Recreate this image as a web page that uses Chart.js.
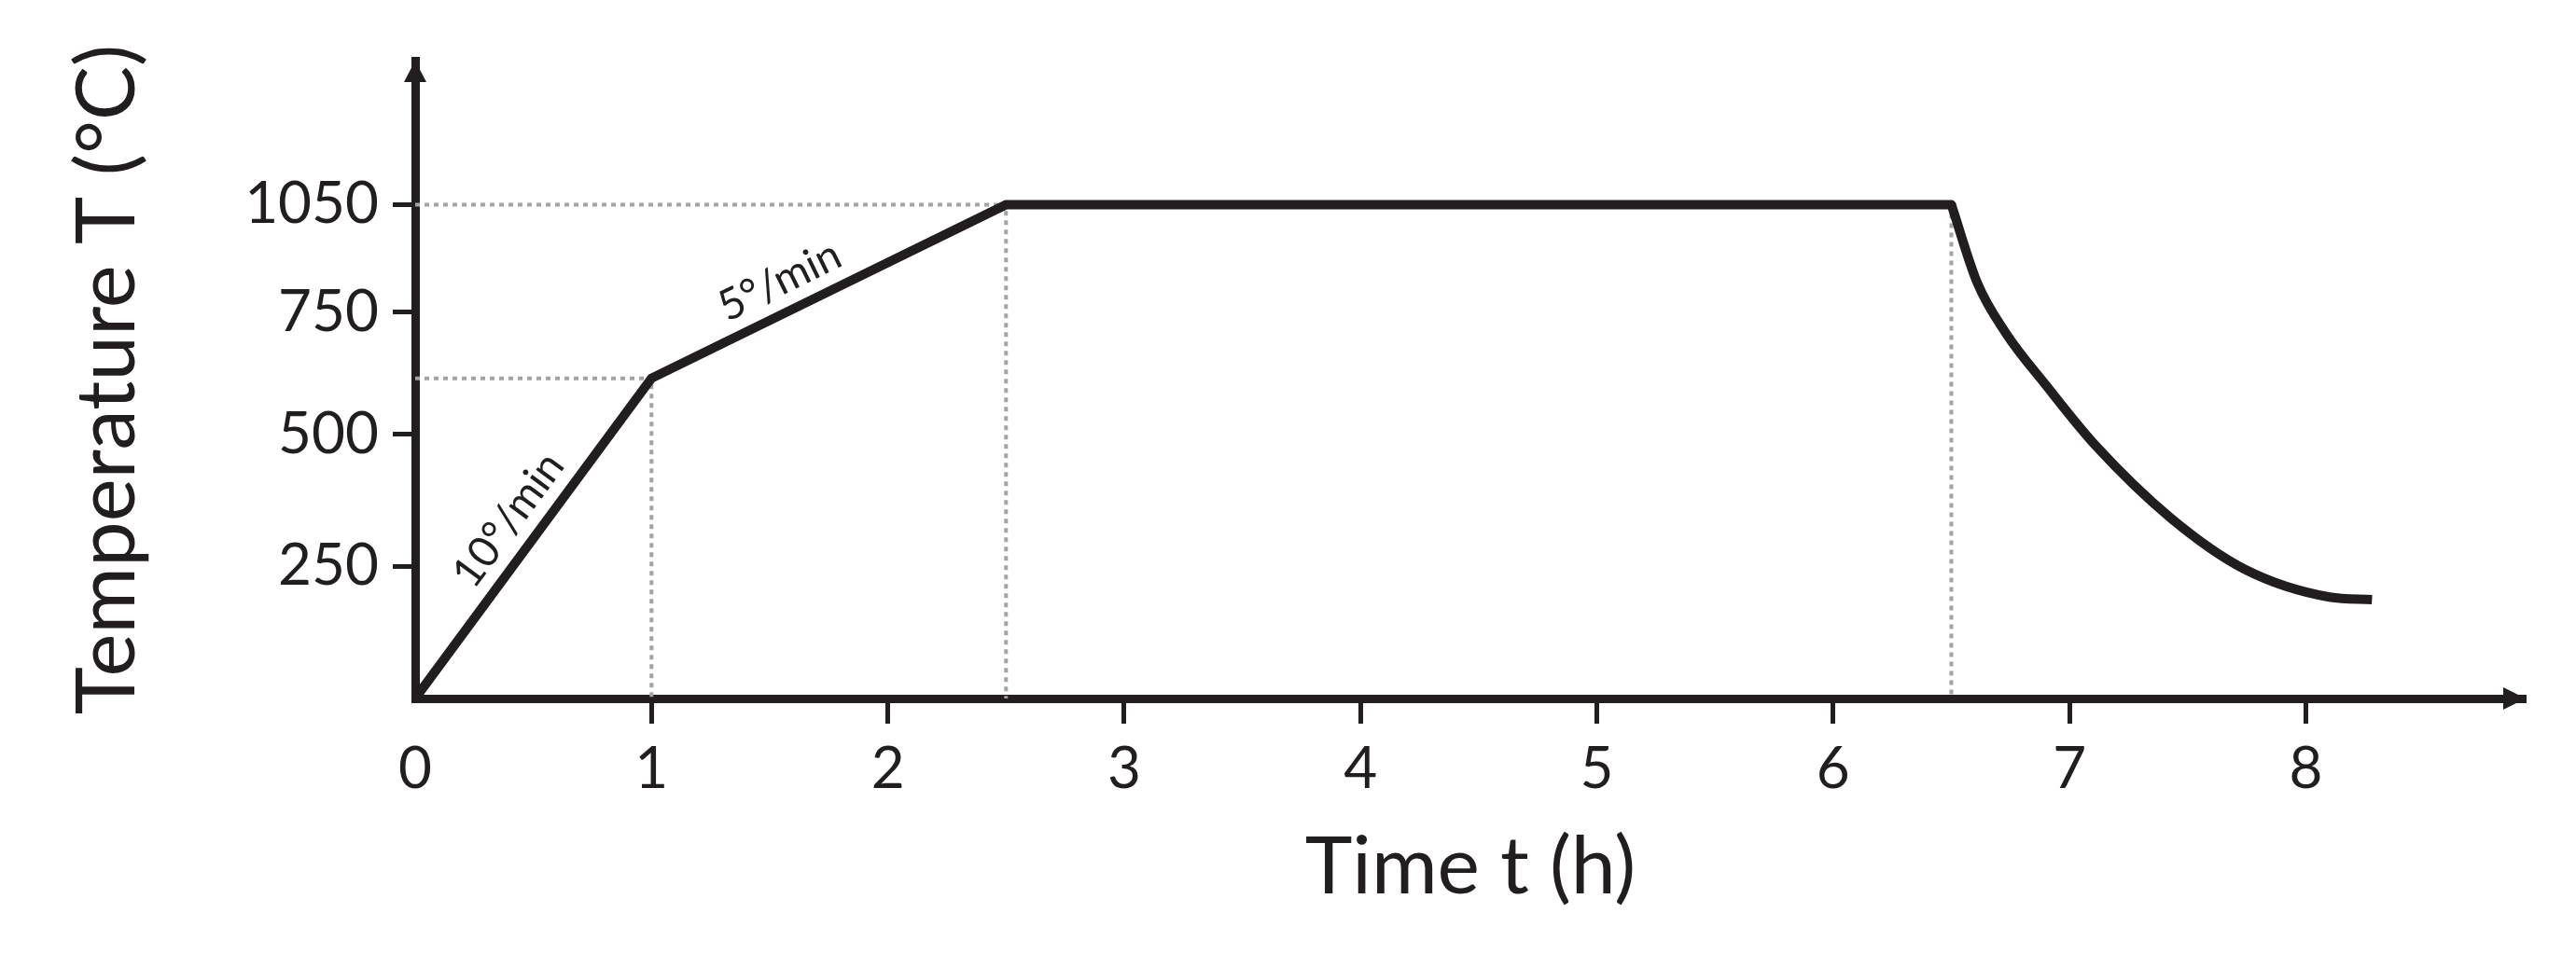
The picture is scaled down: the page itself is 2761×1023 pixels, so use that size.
<!DOCTYPE html>
<html>
<head>
<meta charset="utf-8">
<title>Heat treatment profile</title>
<script src="https://cdn.jsdelivr.net/npm/chart.js@4.4.1/dist/chart.umd.min.js"></script>
<style>
  body { margin: 0; background: #fff; }
</style>
</head>
<body>
<canvas id="chart" width="2761" height="1023"></canvas>
<script>
// heating ramps and hold: time (h) / temperature (°C)
const rampTimes = [0, 1, 2.5, 6.5];
const rampTemps = [0, 615, 1050, 1050];

// cooling curve
const coolTimes = [6.5, 6.61, 6.73, 6.9, 7.11, 7.43, 7.74, 8.1, 8.28];
const coolTemps = [1050, 832, 708, 601, 479, 341, 245, 192, 187];

const tempTicks = [250, 500, 750, 1050];
const rateLabels = ['10°/min', '5°/min'];

const ink = '#221e1f';
const guideGray = '#a3a3a3';

// the drawing is a sketch: the temperature axis is squeezed above 500 °C
const stretchIn = [0, 500, 750, 1050];
const stretchOut = [0, 500, 731, 935];

function piecewise(v, from, to) {
  let i = 1;
  while (i < from.length - 1 && v > from[i]) i++;
  const a = from[i - 1], b = from[i];
  return to[i - 1] + (v - a) * (to[i] - to[i - 1]) / (b - a);
}
const warp = v => piecewise(v, stretchIn, stretchOut);
const unwarp = v => piecewise(v, stretchOut, stretchIn);

class StretchScale extends Chart.LinearScale {
  getPixelForValue(value) {
    if (value === null || value === undefined || isNaN(value)) return NaN;
    const lo = warp(this.min), hi = warp(this.max);
    return this.getPixelForDecimal((warp(value) - lo) / (hi - lo));
  }
  getValueForPixel(pixel) {
    const lo = warp(this.min), hi = warp(this.max);
    return unwarp(lo + this.getDecimalForPixel(pixel) * (hi - lo));
  }
}
StretchScale.id = 'stretch';
StretchScale.defaults = Chart.LinearScale.defaults;
Chart.register(StretchScale);

const points = (xs, ys) => xs.map((x, i) => ({ x: x, y: ys[i] }));

// dotted guides down from the corners of the profile
const guides = [1, 2, 3].map(i => {
  const t = rampTimes[i], T = rampTemps[i];
  const pts = i < 3 ? [{ x: 0, y: T }, { x: t, y: T }, { x: t, y: 0 }] : [{ x: t, y: T }, { x: t, y: 0 }];
  return {
    data: pts,
    borderColor: guideGray,
    borderWidth: 4,
    borderDash: [5, 5],
    pointRadius: 0,
    order: 2
  };
});

const axisArrows = {
  id: 'axisArrows',
  afterDraw(chart) {
    const { ctx, chartArea: a } = chart;
    const ax = chart.scales.y.right;
    const ay = chart.scales.x.top;
    ctx.save();
    ctx.fillStyle = ink;
    ctx.beginPath();
    ctx.moveTo(a.right, ay);
    ctx.lineTo(a.right - 24, ay - 12);
    ctx.lineTo(a.right - 24, ay + 12);
    ctx.closePath();
    ctx.fill();
    ctx.beginPath();
    ctx.moveTo(ax, a.top);
    ctx.lineTo(ax - 12, a.top + 23);
    ctx.lineTo(ax + 12, a.top + 23);
    ctx.closePath();
    ctx.fill();
    ctx.restore();
  }
};

const rateNotes = {
  id: 'rateNotes',
  afterDatasetsDraw(chart, args, opts) {
    const { ctx } = chart;
    const xs = chart.scales.x, ys = chart.scales.y;
    ctx.save();
    ctx.fillStyle = ink;
    ctx.font = opts.size + 'px Lato';
    ctx.textAlign = 'center';
    ctx.textBaseline = 'middle';
    rateLabels.forEach((text, i) => {
      const x0 = xs.getPixelForValue(rampTimes[i]), y0 = ys.getPixelForValue(rampTemps[i]);
      const x1 = xs.getPixelForValue(rampTimes[i + 1]), y1 = ys.getPixelForValue(rampTemps[i + 1]);
      const ang = Math.atan2(y1 - y0, x1 - x0);
      const f = opts.along[i];
      const px = x0 + (x1 - x0) * f + Math.sin(ang) * opts.offset;
      const py = y0 + (y1 - y0) * f - Math.cos(ang) * opts.offset;
      ctx.save();
      ctx.translate(px, py);
      ctx.rotate(ang);
      ctx.fillText(text, 0, 0);
      ctx.restore();
    });
    ctx.restore();
  }
};

new Chart(document.getElementById('chart'), {
  type: 'line',
  data: {
    datasets: [
      {
        data: points(rampTimes, rampTemps),
        borderColor: ink,
        borderWidth: 10,
        borderJoinStyle: 'miter',
        borderCapStyle: 'round',
        pointRadius: 0,
        tension: 0,
        order: 1
      },
      {
        data: points(coolTimes, coolTemps),
        borderColor: ink,
        borderWidth: 10,
        borderCapStyle: 'butt',
        cubicInterpolationMode: 'monotone',
        pointRadius: 0,
        order: 1
      },
      ...guides
    ]
  },
  options: {
    responsive: false,
    devicePixelRatio: 1,
    animation: false,
    layout: { padding: { left: 0, top: 65, right: 54, bottom: 0 } },
    plugins: {
      legend: { display: false },
      tooltip: { enabled: false },
      rateNotes: { size: 46, offset: 33, along: [0.5, 0.4] }
    },
    scales: {
      x: {
        type: 'linear',
        min: 0,
        max: 8.93,
        afterFit: s => { s.height = 274; },
        ticks: {
          stepSize: 1,
          includeBounds: false,
          color: ink,
          padding: 12,
          font: { family: 'Lato', size: 62 }
        },
        grid: {
          drawOnChartArea: false,
          tickLength: 27,
          tickWidth: 5,
          tickColor: c => (c.tick && c.tick.value === 0) ? 'rgba(0,0,0,0)' : ink
        },
        border: { color: ink, width: 9 },
        title: {
          display: true,
          text: 'Time t (h)',
          color: ink,
          font: { family: 'Lato', size: 86 },
          padding: { top: 0, bottom: 41 }
        }
      },
      y: {
        type: 'stretch',
        min: 0,
        max: 1451,
        afterFit: s => { s.width = 445; },
        afterBuildTicks: s => { s.ticks = tempTicks.map(v => ({ value: v })); },
        ticks: {
          color: ink,
          padding: 15,
          font: { family: 'Lato', size: 62 },
          callback: v => String(v)
        },
        grid: {
          drawOnChartArea: false,
          tickLength: 24,
          tickWidth: 5,
          tickColor: ink
        },
        border: { color: ink, width: 9 },
        title: {
          display: true,
          text: 'Temperature T (°C)',
          color: ink,
          font: { family: 'Lato', size: 87 },
          padding: { top: 64, bottom: 0 }
        }
      }
    }
  },
  plugins: [axisArrows, rateNotes]
});
</script>
</body>
</html>
